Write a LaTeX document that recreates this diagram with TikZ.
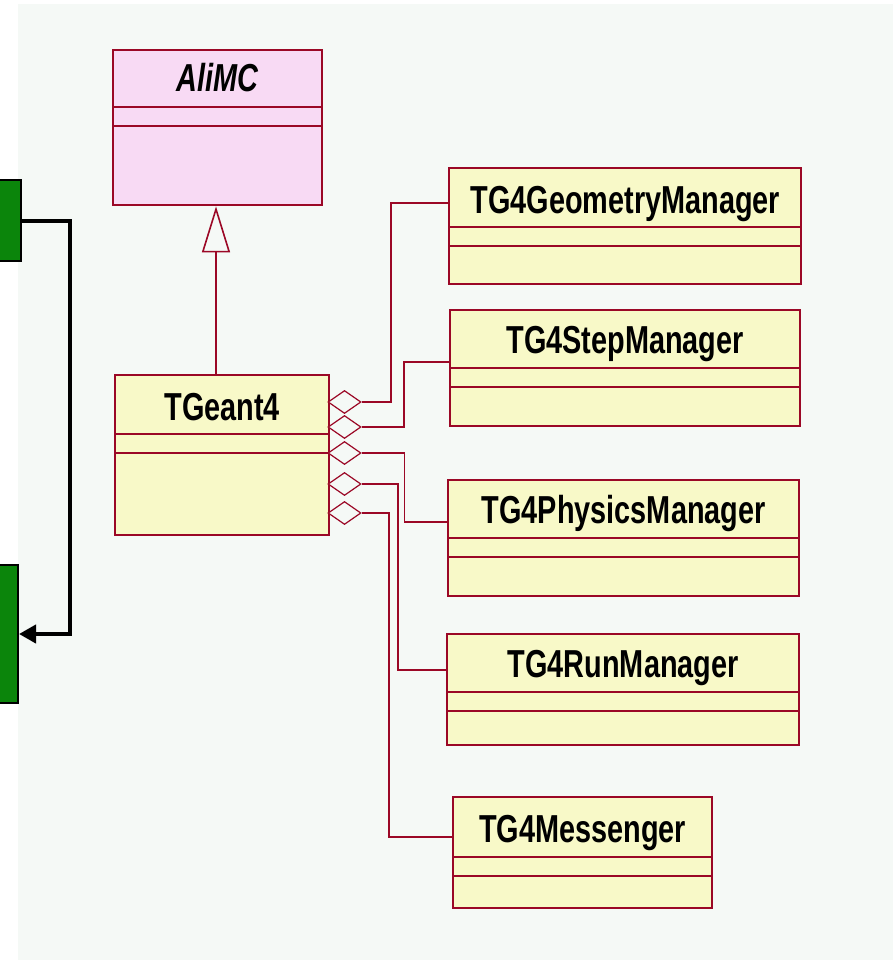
\documentclass[tikz,border=0pt]{standalone}
\usepackage{fontspec}
\newfontfamily\umlfont[FakeStretch=0.74]{Liberation Sans}
\usetikzlibrary{arrows.meta,shapes.geometric,calc}

\definecolor{umlred}{RGB}{155,8,38}
\definecolor{umlyellow}{RGB}{248,249,200}
\definecolor{umlpink}{RGB}{248,218,244}
\definecolor{canvas}{RGB}{245,249,246}
\definecolor{pkggreen}{RGB}{11,133,11}

\tikzset{
  classbox/.style={rectangle, draw=umlred, line width=2.4pt, fill=umlyellow,
    inner sep=0pt, anchor=north west},
  divider/.style={draw=umlred, line width=1.8pt},
  classname/.style={font=\umlfont\bfseries\fontsize{39pt}{42pt}\selectfont,
    anchor=base, inner sep=0pt, text=black},
  aggr/.style={shape=diamond, draw=umlred, line width=1.2pt, fill=canvas,
    inner sep=0pt, minimum width=33pt, minimum height=23pt, aspect=1.43},
  assoc/.style={draw=umlred, line width=2.2pt},
  inherit/.style={draw=umlred, line width=1.6pt,
    -{Triangle[open, length=46pt, width=28pt]}},
  pkgbox/.style={rectangle, draw=black, line width=2pt, fill=pkggreen,
    inner sep=0pt, minimum width=60pt, anchor=north east},
  flow/.style={draw=black, line width=4pt,
    -{Triangle[length=17pt, width=18pt]}},
}

% [extra style]{id}{x}{y}{width}{height}{first divider}{baseline}{name}
\newcommand\umlclass[9][]{%
  \node[classbox, #1, minimum width=#5pt, minimum height=#6pt] (#2) at (#3,#4) {};
  \draw[divider] ([yshift=-#7pt]#2.north west) -- ([yshift=-#7pt]#2.north east);
  \draw[divider] ([yshift={-(#7+19)*1pt}]#2.north west) -- ([yshift={-(#7+19)*1pt}]#2.north east);
  \node[classname] (#2-name) at ([yshift=-#8pt]#2.north) {#9};
}

\begin{document}
\begin{tikzpicture}[x=1pt, y=-1pt]
  \useasboundingbox (0,0) rectangle (893,960);
  \clip (0,0) rectangle (893,960);
  \fill[white] (0,0) rectangle (893,960);
  \fill[canvas] (18,4) rectangle (893,960);

  % neighbouring packages and the dependency between them
  \node[pkgbox, minimum height=81pt] (pkgA) at (22,179) {};
  \node[pkgbox, minimum height=138pt] (pkgB) at (19,564) {};
  \draw[flow] (pkgA.east) -- ++(48,0) |- (pkgB.east);

  % classes
  \umlclass[fill=umlpink]{alimc}{112}{49}{209}{155}{58}{43}{\itshape AliMC}
  \umlclass{tgeant}{114}{374}{214}{160}{60}{46}{TGeant4}
  \umlclass{geo}{448}{167}{352}{116}{60}{46}{TG4GeometryManager}
  \umlclass{step}{449}{309}{350}{116}{59}{44}{TG4StepManager}
  \umlclass{phys}{447}{479}{351}{116}{59}{44}{TG4PhysicsManager}
  \umlclass{run}{446}{633}{352}{111}{59}{44}{TG4RunManager}
  \umlclass{msg}{452}{796}{259}{111}{61}{46}{TG4Messenger}

  % generalisation
  \coordinate (inhx) at (216,0);
  \draw[inherit] (tgeant.north -| inhx) -- (alimc.south -| inhx);

  % aggregation diamonds on TGeant4
  \node[aggr] (d1) at (344.5,402) {};
  \node[aggr] (d2) at (344.5,427) {};
  \node[aggr] (d3) at (344.5,453) {};
  \node[aggr] (d4) at (344.5,484) {};
  \node[aggr] (d5) at (344.5,513) {};

  % ports on the managers
  \coordinate (geo-port)  at (geo.west |- 0,203);
  \coordinate (step-port) at (step.west |- 0,362);
  \coordinate (phys-port) at (phys.west |- 0,522);
  \coordinate (run-port)  at (run.west |- 0,670);
  \coordinate (msg-port)  at (msg.west |- 0,837);

  \draw[assoc] (d1.east) -- ++(29,0) |- (geo-port);
  \draw[assoc] (d2.east) -- ++(42,0) |- (step-port);
  \draw[assoc, line width=1.3pt] (d3.east) -- ++(43,0) |- (phys-port);
  \draw[assoc] (d4.east) -- ++(36,0) |- (run-port);
  \draw[assoc] (d5.east) -- ++(27,0) |- (msg-port);
\end{tikzpicture}
\end{document}
